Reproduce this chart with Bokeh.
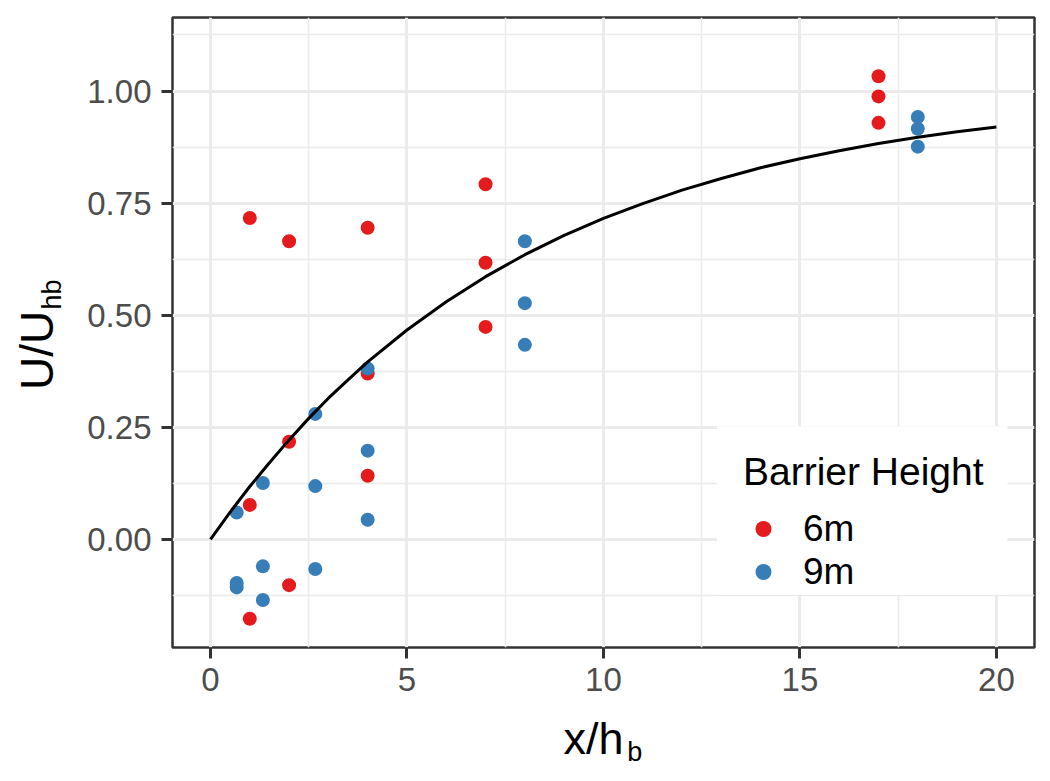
from bokeh.plotting import figure
from bokeh.models import (Range1d, FixedTicker, Legend, LegendItem,
                          BoxAnnotation, LinearAxis)
from bokeh.embed import file_html
from bokeh.resources import INLINE

# ---- data ----
x_6m = [1, 1, 1, 2, 2, 2, 4, 4, 4, 7, 7, 7, 17, 17, 17]
y_6m = [0.717, 0.077, -0.177, 0.665, 0.218, -0.102, 0.695, 0.370, 0.142,
        0.792, 0.617, 0.474, 1.033, 0.988, 0.929]
x_9m = [0.667, 0.667, 0.667, 1.333, 1.333, 1.333, 2.667, 2.667, 2.667,
        4, 4, 4, 8, 8, 8, 18, 18, 18]
y_9m = [0.060, -0.097, -0.107, 0.126, -0.060, -0.135, 0.280, 0.119, -0.066,
        0.381, 0.198, 0.044, 0.665, 0.527, 0.434, 0.942, 0.916, 0.876]
curve_x = [0, 0.5, 1, 1.5, 2, 2.5, 3, 3.5, 4, 5, 6, 7, 8, 9, 10,
           11, 12, 13, 14, 15, 16, 17, 18, 19, 20]
curve_y = [0.0, 0.061, 0.118, 0.171, 0.222, 0.270, 0.315, 0.356, 0.396, 0.467,
           0.530, 0.586, 0.635, 0.678, 0.716, 0.749, 0.779, 0.805, 0.829,
           0.849, 0.867, 0.883, 0.897, 0.909, 0.920]
series_names = ["6m", "9m"]
series_colors = ["#E41A1C", "#377EB8"]
x_ticks = [0, 5, 10, 15, 20]
x_minor = [2.5, 7.5, 12.5, 17.5]
y_ticks = [0.0, 0.25, 0.5, 0.75, 1.0]
y_tick_labels = ["0.00", "0.25", "0.50", "0.75", "1.00"]
y_minor = [-0.125, 0.125, 0.375, 0.625, 0.875, 1.125]
legend_title = "Barrier Height"
x_title_main, x_title_sub = "x/h", "b"
y_title_main, y_title_sub = "U/U", "hb"

FONT = "Liberation Sans"

p = figure(width=1042, height=777, output_backend="svg", toolbar_location=None,
           x_range=Range1d(-0.967, 20.97), y_range=Range1d(-0.241, 1.164),
           min_border_left=172, min_border_right=8, min_border_top=17,
           min_border_bottom=130)
p.background_fill_color = "white"
p.border_fill_color = "white"
p.outline_line_color = "#333333"
p.outline_line_width = 2.5

for ax, ticks, minor in ((p.xaxis[0], x_ticks, x_minor), (p.yaxis[0], y_ticks, y_minor)):
    ax.ticker = FixedTicker(ticks=ticks, minor_ticks=minor)
    ax.axis_line_color = None
    ax.major_tick_line_color = "#333333"
    ax.major_tick_line_width = 3
    ax.major_tick_in = 0
    ax.major_tick_out = 11
    ax.minor_tick_line_color = None
    ax.major_label_text_font = FONT
    ax.major_label_text_font_size = "33px"
    ax.major_label_text_color = "#4D4D4D"
    ax.axis_label = None
p.xaxis[0].major_label_standoff = 9
p.yaxis[0].major_label_standoff = 10
p.yaxis[0].major_label_overrides = {t: s for t, s in zip(y_ticks, y_tick_labels)}

for g in (p.xgrid[0], p.ygrid[0]):
    g.grid_line_color = "#EBEBEB"
    g.grid_line_width = 3
    g.minor_grid_line_color = "#EBEBEB"
    g.minor_grid_line_width = 1.6

r6 = p.scatter(x_6m, y_6m, size=14, color=series_colors[0], line_color=None)
r9 = p.scatter(x_9m, y_9m, size=14, color=series_colors[1], line_color=None)
p.line(curve_x, curve_y, line_color="black", line_width=3)

# legend background box
box = BoxAnnotation(left=12.89, right=20.28, bottom=-0.1234, top=0.2527,
                    fill_color="white", fill_alpha=1.0, line_color=None)
p.add_layout(box)

legend = Legend(items=[LegendItem(label=series_names[0], renderers=[r6]),
                       LegendItem(label=series_names[1], renderers=[r9])],
                location=(571, 54), title=legend_title)
legend.title_text_font = FONT
legend.title_text_font_size = "39px"
legend.title_text_font_style = "normal"
legend.title_text_color = "black"
legend.title_standoff = 13
legend.label_text_font = FONT
legend.label_text_font_size = "37px"
legend.label_text_color = "black"
legend.glyph_width = 40
legend.glyph_height = 43
legend.label_height = 43
legend.label_standoff = 20
legend.spacing = 0
legend.padding = 0
legend.margin = 0
legend.border_line_color = None
legend.background_fill_alpha = 0
p.add_layout(legend)


# axis titles with subscripts, drawn as tick labels of extra (invisible) axes
def title_axis(pos, text, size, standoff, orientation="horizontal"):
    ax = LinearAxis(ticker=FixedTicker(ticks=[pos], minor_ticks=[]))
    ax.major_label_overrides = {pos: text}
    ax.axis_line_color = None
    ax.major_tick_line_color = None
    ax.minor_tick_line_color = None
    ax.major_tick_in = 0
    ax.major_tick_out = 0
    ax.minor_tick_in = 0
    ax.minor_tick_out = 0
    ax.major_label_text_font = FONT
    ax.major_label_text_font_size = size
    ax.major_label_text_color = "black"
    ax.major_label_standoff = standoff
    ax.major_label_orientation = orientation
    return ax


p.add_layout(title_axis(9.75, x_title_main, "45px", 19), "below")
p.add_layout(title_axis(10.80, x_title_sub, "27px", -30), "below")
p.add_layout(title_axis(0.4215, y_title_main, "46px", 21, "vertical"), "left")
p.add_layout(title_axis(0.5464, y_title_sub, "27px", -59, "vertical"), "left")

open("out.html", "w").write(file_html(p, INLINE))
